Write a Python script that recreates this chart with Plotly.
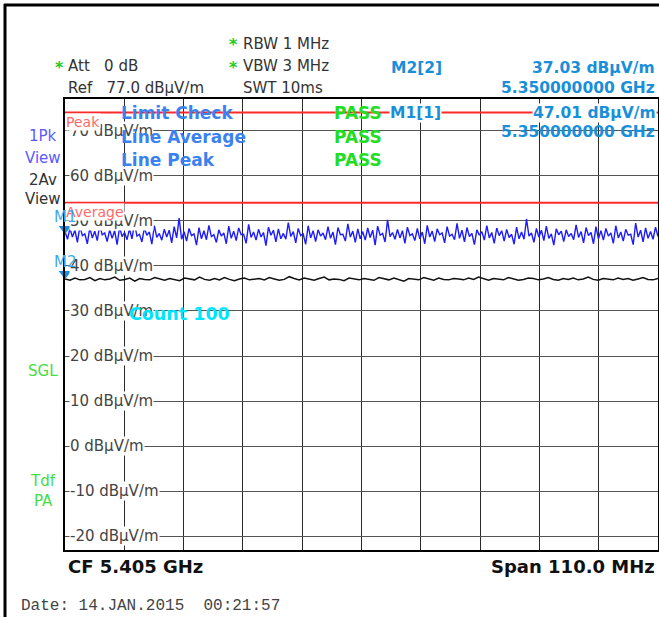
import numpy as np
import plotly.graph_objects as go

# --- data (dBµV/m, frequencies in MHz) ---
start_mhz = 5350.0
stop_mhz = 5460.0
y_min, y_max = -23, 77
grid_ticks = [70, 60, 50, 40, 30, 20, 10, 0, -10, -20]
peak_limit = 74
avg_limit = 54
m1_value = 47.01
m2_value = 37.03

peak_trace = [
    47.6, 45.9, 48.3, 46.4, 47.9, 45.2, 48.8, 46.7, 47.1, 44.9, 48.5, 46.2, 47.7, 45.6, 49.1, 46.9, 47.3, 45.4, 48.0, 46.1,
    47.8, 44.7, 48.6, 46.5, 47.4, 45.8, 48.2, 46.0, 49.4, 46.6, 47.0, 45.3, 48.4, 46.8, 47.5, 44.8, 48.9, 46.3, 47.2, 45.7,
    48.1, 46.4, 47.9, 45.1, 48.7, 46.2, 50.6, 45.9, 47.6, 45.5, 48.3, 46.7, 47.1, 44.6, 48.5, 46.0, 47.8, 45.8, 49.0, 46.5,
    46.9, 45.2, 48.0, 46.6, 47.3, 44.9, 48.8, 46.1, 47.7, 45.6, 48.4, 46.9, 47.0, 45.0, 49.2, 46.3, 47.5, 45.7, 48.1, 46.4,
    47.4, 44.5, 48.6, 46.8, 47.9, 45.3, 48.2, 46.0, 47.2, 45.9, 49.6, 46.5, 47.6, 45.1, 48.3, 46.7, 47.1, 44.8, 48.9, 46.2,
    47.8, 45.4, 48.0, 46.6, 47.3, 45.8, 48.7, 46.1, 47.5, 44.7, 48.5, 46.9, 47.0, 45.5, 49.3, 46.4, 47.7, 45.2, 48.2, 46.0,
    47.6, 45.7, 48.4, 46.3, 47.9, 44.6, 48.8, 46.8, 47.2, 45.3, 50.2, 46.5, 47.4, 45.9, 48.1, 46.2, 47.8, 45.0, 48.6, 46.7,
    47.1, 45.6, 48.3, 46.0, 47.5, 44.9, 49.0, 46.4, 47.7, 45.4, 48.2, 46.9, 47.3, 45.1, 48.7, 46.6, 47.0, 45.8, 49.4, 46.1,
    47.9, 45.3, 48.5, 46.5, 47.2, 44.7, 48.0, 46.8, 47.6, 45.7, 48.9, 46.2, 47.4, 45.0, 48.4, 46.7, 47.8, 45.5, 48.1, 46.3,
    47.0, 44.8, 48.6, 46.0, 47.5, 45.9, 50.4, 46.6, 47.3, 45.2, 48.3, 46.4, 47.9, 45.6, 48.8, 46.1, 47.1, 44.6, 48.2, 46.9,
    47.7, 45.4, 48.0, 46.5, 47.2, 45.8, 49.1, 46.3, 47.6, 45.1, 48.5, 46.7, 47.4, 44.9, 48.7, 46.0, 47.8, 45.7, 48.3, 46.6,
    47.3, 45.0, 48.9, 46.2, 47.5, 45.5, 48.1, 46.8, 47.0, 44.7, 49.5, 46.4, 47.9, 45.3, 48.4, 46.1, 47.6, 45.9, 48.6, 46.5,
]

avg_trace = [
    37.1, 36.8, 37.3, 36.9, 37.0, 37.4, 36.7, 37.2, 36.9, 37.1, 37.5, 36.8, 37.0, 37.3, 36.6, 37.2, 37.0, 36.9, 37.4, 37.1,
    36.8, 37.2, 37.0, 36.7, 37.3, 37.1, 36.9, 37.5, 37.0, 36.8, 37.2, 36.9, 37.4, 37.0, 36.7, 37.1, 37.3, 36.9, 37.0, 37.2,
    36.9, 37.4, 37.1, 36.8, 37.0, 37.6, 37.2, 36.9, 37.3, 37.0, 36.8, 37.2, 37.5, 36.9, 37.1, 37.0, 36.7, 37.3, 37.1, 36.9,
    37.2, 37.0, 36.8, 37.4, 37.1, 36.9, 37.3, 37.0, 36.6, 37.2, 37.0, 36.9, 37.4, 37.1, 36.8, 37.3, 37.0, 36.9, 37.2, 37.1,
    36.9, 37.3, 37.0, 37.5, 37.1, 36.8, 37.2, 37.0, 36.9, 37.4, 37.1, 36.8, 37.0, 37.3, 37.2, 36.9, 37.1, 37.4, 37.0, 36.8,
    37.2, 37.0, 37.3, 36.9, 37.1, 37.5, 37.0, 36.8, 37.2, 37.1, 36.9, 37.3, 37.0, 37.2, 36.8, 37.1, 37.4, 37.0, 36.9, 37.2,
]

W, H = 659, 617
FONT = "DejaVu Sans"


def px(x):
    return x / W


def py(y):
    return 1 - y / H


fig = go.Figure()

freq_pk = np.linspace(start_mhz, stop_mhz, len(peak_trace))
freq_av = np.linspace(start_mhz, stop_mhz, len(avg_trace))

for lim in (peak_limit, avg_limit):
    fig.add_trace(go.Scatter(x=[start_mhz, stop_mhz], y=[lim, lim], mode="lines",
                             line=dict(color="#ff2a2a", width=2), hoverinfo="skip"))

fig.add_trace(go.Scatter(x=freq_pk, y=peak_trace, mode="lines",
                         line=dict(color="#1c1cff", width=1.4)))
fig.add_trace(go.Scatter(x=freq_av, y=avg_trace, mode="lines",
                         line=dict(color="#111111", width=1.5)))

# marker triangles at the start frequency
fig.add_trace(go.Scatter(x=[start_mhz, start_mhz], y=[m1_value + 1.2, m2_value + 1.2], mode="markers",
                         marker=dict(symbol="triangle-down", size=11, color="#1a8fe0"),
                         cliponaxis=False))

fig.update_layout(
    width=W, height=H,
    margin=dict(l=0, r=0, t=0, b=0),
    paper_bgcolor="white",
    plot_bgcolor="white",
    showlegend=False,
    xaxis=dict(domain=[px(65), px(658)], range=[start_mhz, stop_mhz],
               tick0=start_mhz, dtick=(stop_mhz - start_mhz) / 10,
               showgrid=True, gridcolor="#2a2a2a", gridwidth=1,
               showticklabels=False, ticks="", zeroline=False,
               showline=True, mirror=True, linecolor="black", linewidth=2),
    yaxis=dict(domain=[py(550), py(99)], range=[y_min, y_max],
               tick0=-20, dtick=10,
               showgrid=True, gridcolor="#555555", gridwidth=1,
               showticklabels=False, ticks="", zeroline=False,
               showline=True, mirror=True, linecolor="black", linewidth=2),
)

# outer frame
fig.add_shape(type="line", xref="paper", yref="paper", x0=px(5), x1=px(5), y0=py(4), y1=0,
              line=dict(color="black", width=3))
fig.add_shape(type="line", xref="paper", yref="paper", x0=px(4), x1=1, y0=py(5), y1=py(5),
              line=dict(color="black", width=3))
# marker info box hides the grid
fig.add_shape(type="rect", xref="paper", yref="paper", x0=px(385), x1=px(657), y0=py(102), y1=py(142),
              fillcolor="white", line=dict(width=0), layer="between")

annos = []


def txt(x, y, s, color="#333333", size=15, anchor="left", bold=False, family=FONT, bg=None):
    d = dict(xref="paper", yref="paper", x=px(x), y=py(y), text=f"<b>{s}</b>" if bold else s,
             showarrow=False, xanchor=anchor, yanchor="middle",
             font=dict(family=family, size=size, color=color))
    if bg:
        d["bgcolor"] = bg
        d["borderpad"] = 0
    annos.append(d)


# header
txt(53, 67, "*", color="#22cc22", size=16, bold=True)
txt(66, 66, "Att&nbsp;&nbsp;&nbsp;0 dB")
txt(66, 88, "Ref&nbsp;&nbsp;&nbsp;77.0 dBµV/m")
txt(227, 45, "*", color="#22cc22", size=16, bold=True)
txt(227, 67, "*", color="#22cc22", size=16, bold=True)
txt(241, 44, "RBW 1 MHz")
txt(241, 66, "VBW 3 MHz")
txt(241, 88, "SWT 10ms")

blue = "#1a8fd8"
txt(389, 68, "M2[2]", color=blue, size=15.5, bold=True)
txt(657, 68, "37.03 dBµV/m", color=blue, size=15.5, anchor="right", bold=True)
txt(657, 88, "5.350000000 GHz", color=blue, size=15.5, anchor="right", bold=True)
txt(389, 113, "M1[1]", color=blue, size=15.5, bold=True, bg="white")
txt(657, 113, "47.01 dBµV/m", color=blue, size=15.5, anchor="right", bold=True, bg="white")
txt(657, 132, "5.350000000 GHz", color=blue, size=15.5, anchor="right", bold=True)

# y labels drawn on the grid lines
for t in grid_ticks:
    annos.append(dict(xref="paper", yref="y", x=px(69), y=t, text=f"{t} dBµV/m",
                      showarrow=False, xanchor="left", yanchor="middle", bgcolor="white", borderpad=0,
                      font=dict(family=FONT, size=15, color="#444444")))

# limit line labels
annos.append(dict(xref="paper", yref="y", x=px(65), y=peak_limit, text="Peak", showarrow=False,
                  xanchor="left", yanchor="top", bgcolor="white", borderpad=0,
                  font=dict(family=FONT, size=14, color="#ff6a6a")))
annos.append(dict(xref="paper", yref="y", x=px(65), y=avg_limit, text="Average", showarrow=False,
                  xanchor="left", yanchor="top", bgcolor="white", borderpad=0,
                  font=dict(family=FONT, size=14, color="#ff6a6a")))

# limit check
lc = "#3b82f0"
txt(119, 113, "Limit Check", color=lc, size=17, bold=True)
txt(119, 137, "Line Average", color=lc, size=17, bold=True)
txt(119, 160, "Line Peak", color=lc, size=17, bold=True)
for yy in (113, 137, 160):
    txt(332, yy, "PASS", color="#22dd22", size=17, bold=True)

# marker names
txt(52, 217, "M1", color="#40a8e8", size=15)
txt(52, 262, "M2", color="#40a8e8", size=15)

# left status column
txt(43, 136, "1Pk", color="#5a5aff", anchor="center")
txt(43, 158, "View", color="#5a5aff", anchor="center")
txt(43, 180, "2Av", color="#333333", anchor="center")
txt(43, 199, "View", color="#333333", anchor="center")
txt(43, 371, "SGL", color="#44dd44", anchor="center")
txt(43, 481, "Tdf", color="#44dd44", anchor="center")
txt(43, 501, "PA", color="#44dd44", anchor="center")

txt(127, 314, "Count 100", color="#00e5ff", size=17.5, bold=True)

# footer
txt(66, 566, "CF 5.405 GHz", color="#111111", size=18, bold=True)
txt(657, 566, "Span 110.0 MHz", color="#111111", size=18, anchor="right", bold=True)
txt(19, 606, "Date: 14.JAN.2015&nbsp;&nbsp;00:21:57", color="#444444", size=16, family="Liberation Mono")

fig.update_layout(annotations=annos)

fig.write_html("out.html", config={"displayModeBar": False},
               post_script="document.body.style.margin='0';document.body.style.overflow='hidden';")
